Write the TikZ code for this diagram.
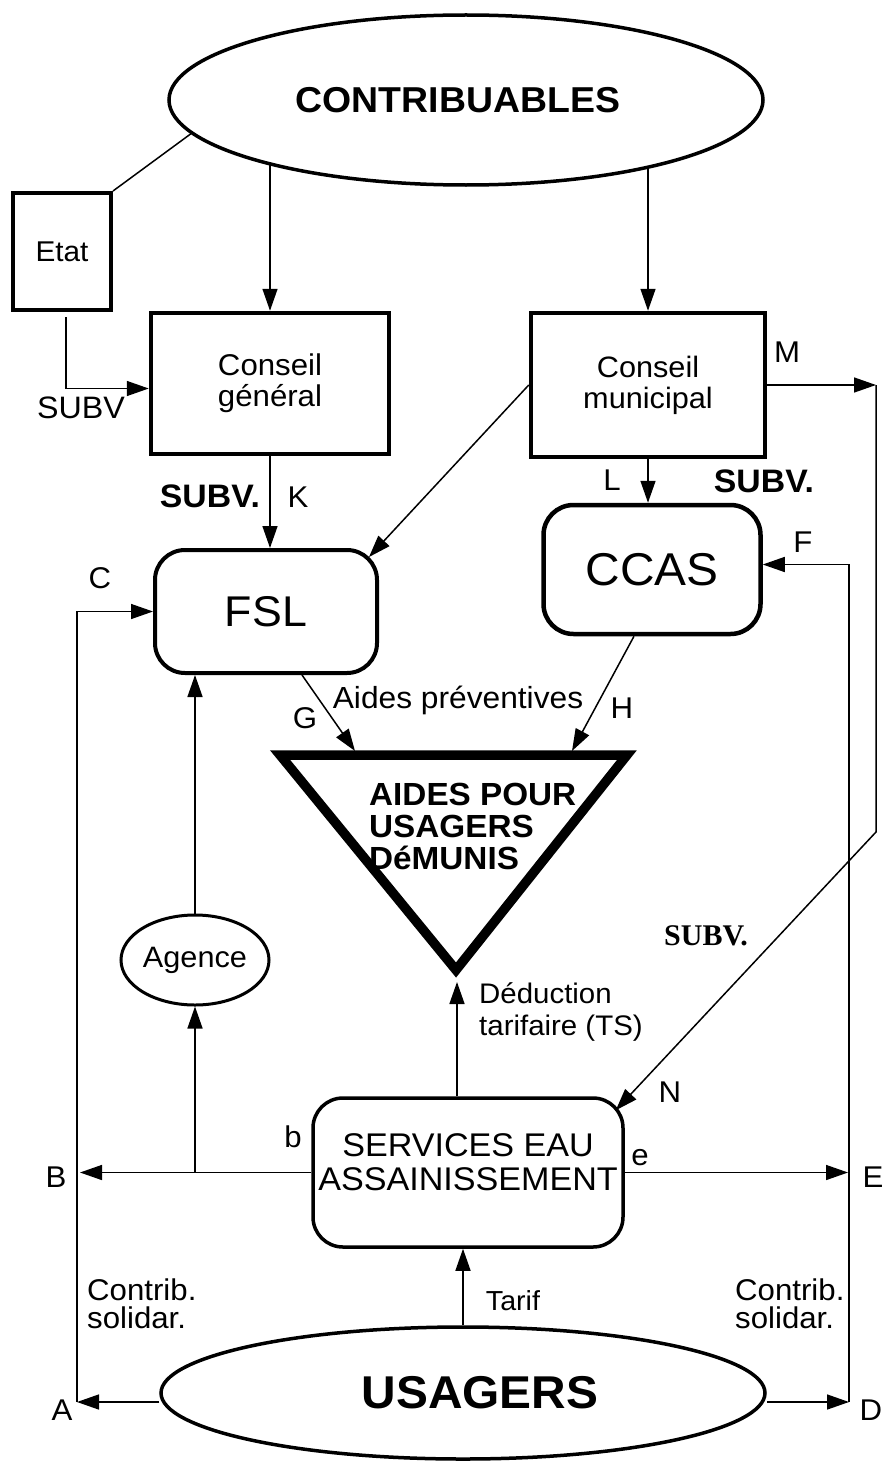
\documentclass[tikz,border=0pt]{standalone}
\usepackage{fontspec}
\setmainfont{Liberation Sans}[FakeStretch=1.04]
\newfontfamily\serifbold{Liberation Serif}
\usetikzlibrary{arrows.meta,shapes.geometric,calc}
\newcommand\fsz[2]{\fontsize{#1}{#2}\selectfont}
\begin{document}
\begin{tikzpicture}[x=1pt,y=-1pt,
  conn/.style={line width=1.5pt},
  arr/.style={conn,-{Triangle[length=22pt,width=15pt]}},
  boxa/.style={draw,line width=4.5pt,rectangle,inner sep=0,align=center,font=\fsz{30}{31}},
  rbox/.style={draw,line width=4pt,rectangle,rounded corners=30pt,inner sep=0,align=center},
  oval/.style={draw,line width=3.5pt,ellipse,inner sep=0},
  lbl/.style={inner sep=0,anchor=base,font=\fsz{30}{31}},
  blbl/.style={inner sep=0,anchor=base,font=\fsz{32.5}{33}\bfseries},
]
\fill[white] (0,0) rectangle (884,1461);
\useasboundingbox (0,0) rectangle (884,1461);

% main nodes
\node[oval,minimum width=594pt,minimum height=170pt,font=\fsz{36}{38}\bfseries] (cont) at (466,100) {CONTRIBUABLES\hspace*{16pt}};
\node[boxa,line width=4pt,minimum width=98pt,minimum height=117pt,font=\fsz{28.6}{30}] (etat) at (62,251.5) {Etat};
\node[boxa,minimum width=238pt,minimum height=141pt] (cg) at (270,383.5) {Conseil\\général};
\node[boxa,minimum width=234pt,minimum height=144pt,font=\fsz{29.5}{31}] (cm) at (648,385) {Conseil\\municipal};
\node[rbox,minimum width=222pt,minimum height=123pt,font=\fsz{43}{46}] (fsl) at (266,611.5) {FSL};
\node[rbox,line width=4.5pt,minimum width=217pt,minimum height=129pt,font=\fsz{46}{48}] (ccas) at (652,569.5) {CCAS};
\node[oval,line width=3pt,minimum width=148pt,minimum height=90pt,font=\fsz{29.5}{30}] (agence) at (195,960) {Agence};
\node[rbox,line width=3.5pt,minimum width=310pt,minimum height=149pt,font=\fsz{32.8}{34}] (se) at (468,1172.5) {SERVICES EAU\\ASSAINISSEMENT\\[-14pt]\mbox{}};
\node[oval,minimum width=604pt,minimum height=132pt,font=\fsz{46}{48}\bfseries] (usag) at (463,1393) {\hspace*{34pt}USAGERS};

% triangle
\coordinate (tl) at (280,755);
\coordinate (tr) at (627,755);
\coordinate (ta) at (456,970);
\draw[line width=9.5pt,line join=miter] (tl) -- (tr) -- (ta) -- cycle;
\node[inner sep=0,anchor=base west,align=left,font=\fsz{32}{32}\bfseries] (aidtxt) at (369,869) {AIDES POUR\\USAGERS\\DéMUNIS};

% labels
\node[lbl,font=\fsz{31}{31}] (subv1) at (81,418) {SUBV};
\node[blbl] (subvk) at (210,507) {SUBV.};
\node[lbl] (klab) at (298,507) {K};
\node[lbl] (llab) at (612,490) {L};
\node[blbl] (subvl) at (764,492) {SUBV.};
\node[lbl] (mlab) at (787,362) {M};
\node[lbl] (clab) at (100,588) {C};
\node[lbl] (flab) at (803,552) {F};
\node[lbl] (glab) at (305,728) {G};
\node[lbl,font=\fsz{30.5}{31}] (aidprev) at (458,708) {Aides préventives};
\node[lbl] (hlab) at (622,718) {H};
\node[inner sep=0,anchor=base,font=\serifbold\bfseries\fsz{30}{30}] (subvn) at (706,945) {SUBV.};
\node[lbl,anchor=base west,align=left,font=\fsz{28.3}{32}] (deduc) at (479,1035) {Déduction\\tarifaire (TS)};
\node[lbl] (nlab) at (670,1102) {N};
\node[lbl] (blow) at (293,1147) {b};
\node[lbl] (elow) at (640,1165) {e};
\node[lbl] (blab) at (56,1187) {B};
\node[lbl] (elab) at (873,1187) {E};
\node[lbl,anchor=base west,align=left,font=\fsz{30}{28}] (contl) at (87,1328) {Contrib.\\solidar.};
\node[lbl,anchor=base west,align=left,font=\fsz{30}{28}] (contr) at (735,1328) {Contrib.\\solidar.};
\node[lbl,font=\fsz{27.5}{30}] (tarif) at (513,1310) {Tarif};
\node[lbl] (alab) at (62,1420) {A};
\node[lbl] (dlab) at (871,1420) {D};

% free ends
\coordinate (mr) at (876,385);
\coordinate (md) at (876,832);
\coordinate (pa) at (77,1402);
\coordinate (pb) at (80,1172.5);
\coordinate (pe) at (848,1172.5);
\coordinate (pd) at (849,1402);
\coordinate (g1) at (355,751);
\coordinate (h1) at (572,751);
\coordinate (tb) at (457,982);

% connectors
\draw[conn] (cont.187.7) -- (etat.north east);
\draw[arr] (cont.198.1 -| cg.north) -- (cg.north);
\draw[arr] (cont.339.7 -| cm.north) -- (cm.north);
\draw[arr] ([shift={(4pt,-5pt)}]etat.south) |- ([yshift=-5pt]cg.west);
\draw[arr] (cg.south) -- (cg.south |- fsl.north);
\draw[arr] (cm.west) -- ([shift={(-10pt,-9pt)}]fsl.north east);
\draw[arr] (cm.south) -- (cm.south |- ccas.north);
\draw[arr] (cm.east) -- (mr);
\draw[arr] (mr) -- (md) -- ([shift={(-9pt,-14pt)}]se.north east);
\draw[arr] (pa -| usag.west) -- (pa);
\draw[arr] (pa) |- (fsl.west);
\draw[arr] (se.west) -- (pb);
\draw[arr] (agence.south |- se.west) -- (agence.south);
\draw[arr] (agence.north) -- (agence.north |- fsl.south);
\draw[arr] (se.east) -- (pe);
\draw[arr] (pd -| usag.east) -- (pd);
\draw[arr] (pd) |- ([yshift=5pt]ccas.east);
\draw[arr] (usag.north) -- (usag.north |- se.south);
\draw[arr] (se.north -| tb) -- (tb);
\draw[arr] ([xshift=36pt]fsl.south) -- (g1);
\draw[arr] ([xshift=-18pt]ccas.south) -- (h1);
\end{tikzpicture}
\end{document}
